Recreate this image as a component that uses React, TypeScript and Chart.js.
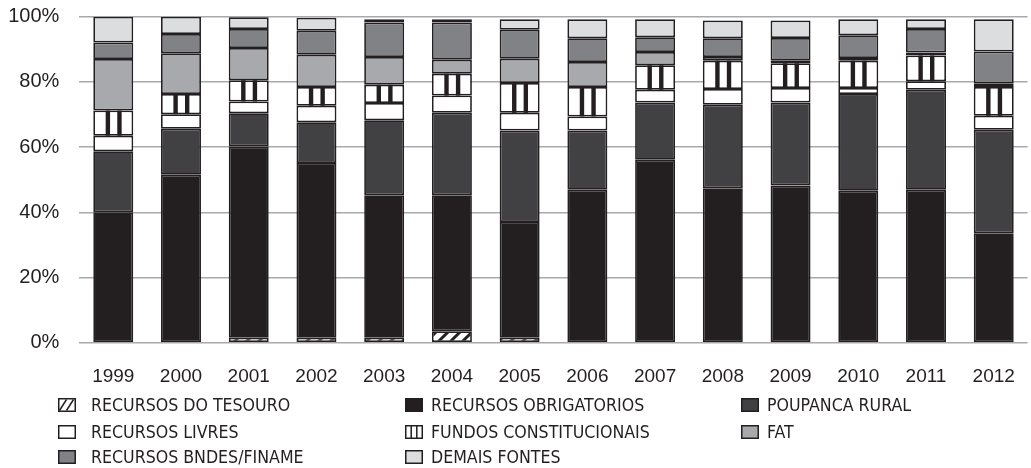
import React, { useEffect, useRef } from "react";
import { Chart, registerables } from "chart.js";

Chart.register(...registerables);

// ---------- data (percent of total) ----------
const years = ["1999", "2000", "2001", "2002", "2003", "2004", "2005", "2006", "2007", "2008", "2009", "2010", "2011", "2012"];
const tesouro = [0, 0, 1.5, 1.5, 1.5, 3.5, 1.5, 0, 0, 0, 0, 0, 0, 0];
const obrigatorios = [40, 51.5, 58.7, 53.6, 43.7, 41.7, 35.5, 46.9, 56.1, 47.4, 48.2, 46.6, 46.9, 33.6];
const poupanca = [18.7, 14.1, 10.2, 12.5, 23, 25.3, 28.1, 18.2, 17.6, 25.6, 25.5, 29.7, 30.7, 31.7];
const livres = [4.8, 4.5, 3.6, 5.1, 5.3, 5.3, 5.4, 4.3, 3.9, 4.8, 4.4, 1.8, 2.6, 4.3];
const fundos = [7.7, 6.2, 6.5, 5.7, 5.6, 6.7, 9.2, 9.0, 7.5, 8.7, 7.6, 8.4, 7.9, 8.8];
const fat = [15.8, 12.5, 9.9, 9.9, 8.5, 4.3, 7.4, 7.7, 4.1, 1.1, 0.8, 0.8, 0.9, 1.0];
const bndes = [5.1, 5.9, 5.8, 7.4, 10.6, 11.4, 8.9, 7.3, 4.5, 5.8, 7.0, 7.0, 7.2, 9.9];
const demais = [7.9, 5.3, 3.6, 4.0, 1.0, 1.0, 3.2, 5.8, 5.5, 5.4, 5.3, 4.9, 3.0, 9.9];
const yTicks = [0, 20, 40, 60, 80, 100];

const seriesNames = [
  "RECURSOS DO TESOURO",
  "RECURSOS OBRIGATORIOS",
  "POUPANCA RURAL",
  "RECURSOS LIVRES",
  "FUNDOS CONSTITUCIONAIS",
  "FAT",
  "RECURSOS BNDES/FINAME",
  "DEMAIS FONTES",
];

// ---------- styles ----------
const INK = "#231f20";
const C_OBRIG = "#231f20";
const C_POUP = "#414042";
const C_FAT = "#a7a9ac";
const C_BNDES = "#808285";
const C_DEMAIS = "#dcdddf";
const GRID = "#a7a9ac";
const FUNDOS_INDEX = 4;

function makeHatch(ctx: CanvasRenderingContext2D): CanvasPattern | string {
  const s = 12;
  const c = document.createElement("canvas");
  c.width = s;
  c.height = s;
  const g = c.getContext("2d");
  if (!g) return "#ffffff";
  g.fillStyle = "#ffffff";
  g.fillRect(0, 0, s, s);
  g.strokeStyle = INK;
  g.lineWidth = 3;
  g.beginPath();
  g.moveTo(-2, s + 2);
  g.lineTo(s + 2, -2);
  g.moveTo(-2 - s, s + 2);
  g.lineTo(2, -2);
  g.moveTo(s - 2, 2 + s);
  g.lineTo(s + s + 2, -2);
  g.stroke();
  return ctx.createPattern(c, "repeat") || "#ffffff";
}

const stripePlugin = {
  id: "fundosStripes",
  afterDatasetDraw(chart: any, args: any) {
    if (args.index !== FUNDOS_INDEX) return;
    const ctx = chart.ctx as CanvasRenderingContext2D;
    ctx.save();
    ctx.fillStyle = INK;
    args.meta.data.forEach((el: any) => {
      const p = el.getProps(["x", "y", "base", "width"], true);
      const top = Math.min(p.y, p.base);
      const h = Math.abs(p.base - p.y);
      if (h <= 0.5) return;
      const left = p.x - p.width / 2;
      ctx.fillRect(left + 0.31 * p.width, top, 0.11 * p.width, h);
      ctx.fillRect(left + 0.6 * p.width, top, 0.11 * p.width, h);
    });
    ctx.restore();
  },
};

function Icon({ kind }: { kind: number }) {
  const fills = ["#ffffff", C_OBRIG, C_POUP, "#ffffff", "#ffffff", C_FAT, C_BNDES, C_DEMAIS];
  return (
    <svg width={18} height={14} style={{ display: "block" }}>
      <rect x={0.75} y={0.75} width={16.5} height={12.5} fill={fills[kind]} stroke={INK} strokeWidth={1.5} />
      {kind === 0 && (
        <g stroke={INK} strokeWidth={1.5}>
          <line x1={1.5} y1={12.5} x2={8.5} y2={1.5} />
          <line x1={8.5} y1={12.5} x2={15.5} y2={1.5} />
        </g>
      )}
      {kind === 4 && (
        <g stroke={INK} strokeWidth={1.5}>
          <line x1={6.2} y1={1} x2={6.2} y2={13} />
          <line x1={11.8} y1={1} x2={11.8} y2={13} />
        </g>
      )}
    </svg>
  );
}

const legendCols = [
  { box: 58, text: 91 },
  { box: 405, text: 431 },
  { box: 741, text: 767 },
];
const legendRows = [405, 431.5, 457];

export default function App() {
  const ref = useRef<HTMLCanvasElement>(null);

  useEffect(() => {
    const canvas = ref.current;
    if (!canvas) return;
    const ctx = canvas.getContext("2d");
    if (!ctx) return;
    const hatch = makeHatch(ctx);

    const values = [tesouro, obrigatorios, poupanca, livres, fundos, fat, bndes, demais];
    const bgs: any[] = [hatch, C_OBRIG, C_POUP, "#ffffff", "#ffffff", C_FAT, C_BNDES, C_DEMAIS];

    const chart = new Chart(ctx, {
      type: "bar",
      data: {
        labels: years,
        datasets: values.map((v, i) => ({
          label: seriesNames[i],
          data: v,
          backgroundColor: bgs[i],
          borderColor: INK,
          borderWidth: 1.75,
          borderSkipped: false,
          categoryPercentage: 1,
          barPercentage: 0.59,
        })),
      },
      options: {
        animation: false,
        responsive: true,
        maintainAspectRatio: false,
        layout: { padding: { top: 16.7, right: 3.4, bottom: 80.3, left: 0 } },
        plugins: {
          legend: { display: false },
          tooltip: { enabled: false },
        },
        scales: {
          x: {
            stacked: true,
            grid: { display: false, drawTicks: false },
            border: { display: false },
            afterFit: (scale: any) => {
              scale.height = 45;
              scale.paddingLeft = 0;
              scale.paddingRight = 0;
            },
            ticks: {
              color: INK,
              padding: 23,
              font: { family: "'Liberation Sans', Arial, sans-serif", size: 19 },
            },
          },
          y: {
            stacked: true,
            min: 0,
            max: 100,
            afterBuildTicks: (scale: any) => {
              scale.ticks = yTicks.map((v) => ({ value: v }));
            },
            afterFit: (scale: any) => {
              scale.width = 79.4;
              scale.paddingTop = 0;
              scale.paddingBottom = 0;
            },
            grid: { color: GRID, lineWidth: 1.5, drawTicks: false },
            border: { display: false },
            ticks: {
              color: INK,
              padding: 20,
              font: { family: "'Liberation Sans', Arial, sans-serif", size: 20 },
              callback: (v: any) => v + "%",
            },
          },
        },
      },
      plugins: [stripePlugin],
    });
    return () => chart.destroy();
  }, []);

  return (
    <div style={{ position: "absolute", left: 0, top: 0, width: 1031, height: 468, background: "#ffffff", overflow: "hidden" }}>
      <canvas ref={ref} />
      {seriesNames.map((name, i) => {
        const col = legendCols[i % 3];
        const cy = legendRows[Math.floor(i / 3)];
        return (
          <React.Fragment key={name}>
            <div style={{ position: "absolute", left: col.box, top: cy - 7 }}>
              <Icon kind={i} />
            </div>
            <div
              style={{
                position: "absolute",
                left: col.text,
                top: cy - 12,
                height: 24,
                lineHeight: "24px",
                fontFamily: "'DejaVu Sans Condensed', 'Liberation Sans Narrow', sans-serif",
                fontSize: 17.6,
                color: INK,
                whiteSpace: "nowrap",
              }}
            >
              {name}
            </div>
          </React.Fragment>
        );
      })}
    </div>
  );
}
